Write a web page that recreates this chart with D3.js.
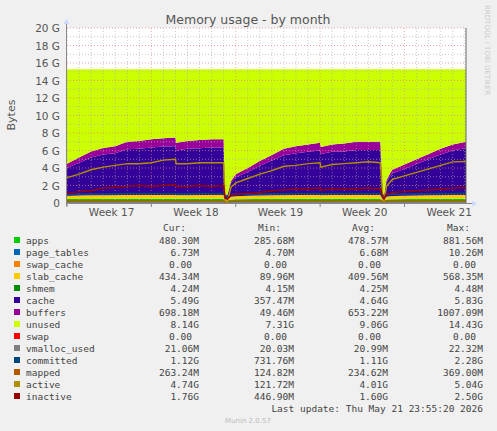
<!DOCTYPE html>
<meta charset="utf-8">
<style>
  body { margin: 0; background: #f0f0f0; }
  text { font-family: 'DejaVu Sans', sans-serif; fill: #555; }
  .mono { font-family: 'DejaVu Sans Mono', monospace; font-size: 9.5px; fill: #444; }
</style>
<body>
<script src="https://d3js.org/d3.v7.min.js"></script>
<script>
// time in days from start of the month window
var days = [0,1,2,3,4,5,6,7,8,9,9.05,10,11,12,13,13.1,13.3,13.6,14,15,16,17,18,19,20,21,21.05,22,23,24,25,26,26.2,26.3,26.5,26.8,27,28,29,30,31,32,33.1];
// stacked series in G
var apps =  [0.45,0.45,0.46,0.46,0.47,0.47,0.47,0.48,0.48,0.48,0.47,0.47,0.48,0.48,0.48,0.3,0.29,0.4,0.42,0.44,0.45,0.46,0.47,0.48,0.48,0.48,0.47,0.48,0.48,0.48,0.48,0.48,0.3,0.29,0.4,0.42,0.43,0.44,0.45,0.46,0.47,0.48,0.48];
var slab =  [0.38,0.4,0.41,0.42,0.42,0.43,0.43,0.43,0.43,0.43,0.42,0.42,0.43,0.43,0.43,0.1,0.09,0.3,0.35,0.38,0.4,0.41,0.42,0.42,0.43,0.43,0.42,0.42,0.43,0.43,0.43,0.43,0.1,0.09,0.3,0.35,0.37,0.39,0.4,0.41,0.42,0.43,0.43];
var buffers=[0.5,0.6,0.7,0.75,0.8,0.85,0.9,0.95,0.95,1.0,0.9,0.9,0.95,0.95,0.95,0.05,0.05,0.25,0.35,0.45,0.55,0.65,0.75,0.8,0.85,0.9,0.8,0.85,0.9,0.95,0.95,0.95,0.05,0.05,0.25,0.35,0.4,0.5,0.55,0.6,0.65,0.7,0.7];
var used =  [4.5,5.2,5.9,6.3,6.5,7.0,7.1,7.3,7.4,7.5,6.9,7.1,7.2,7.3,7.3,1.0,0.9,2.5,3.3,4.0,4.8,5.5,6.2,6.5,6.7,6.9,6.4,6.7,6.8,7.0,7.0,7.0,1.2,0.9,2.6,3.4,3.8,4.4,5.0,5.6,6.2,6.7,7.0];
var total = 15.3;
// line series in G
var active =   [2.9,3.3,3.8,4.1,4.3,4.5,4.5,4.6,4.9,5.0,4.5,4.5,4.6,4.6,4.6,0.3,0.1,1.8,2.3,2.8,3.3,3.7,4.2,4.3,4.5,4.6,4.1,4.4,4.5,4.6,4.7,4.6,0.5,0.1,1.9,2.4,2.7,3.1,3.5,3.9,4.3,4.7,4.74];
var inactive = [1.1,1.3,1.4,1.7,1.8,1.9,2.0,1.9,2.0,2.1,1.9,1.9,2.0,1.9,2.0,0.6,0.45,0.9,1.0,1.1,1.2,1.4,1.5,1.6,1.6,1.7,1.5,1.6,1.6,1.6,1.7,1.6,0.6,0.45,1.0,1.1,1.2,1.3,1.4,1.5,1.6,1.7,1.76];
var committed =[0.95,1.0,1.0,1.05,1.05,1.1,1.1,1.1,1.1,1.1,1.05,1.05,1.1,1.1,1.1,0.8,0.75,0.9,0.95,1.0,1.0,1.05,1.05,1.1,1.1,1.1,1.05,1.1,1.1,1.1,1.1,1.1,0.8,0.75,0.9,0.95,1.0,1.0,1.05,1.05,1.1,1.1,1.12];
var mapped =   [0.22,0.23,0.23,0.24,0.24,0.25,0.25,0.25,0.25,0.25,0.24,0.24,0.25,0.25,0.25,0.13,0.12,0.2,0.21,0.22,0.23,0.24,0.24,0.25,0.25,0.25,0.24,0.25,0.25,0.25,0.26,0.26,0.13,0.12,0.2,0.21,0.22,0.23,0.24,0.25,0.25,0.26,0.26];
var weekLabels = ["Week 17","Week 18","Week 19","Week 20","Week 21"];
var yTicks = [0,2,4,6,8,10,12,14,16,18,20];

var legendNames = ["apps","page_tables","swap_cache","slab_cache","shmem","cache","buffers","unused","swap","vmalloc_used","committed","mapped","active","inactive"];
var legendColors = ["#00CC00","#0066B3","#FF8000","#FFCC00","#008F00","#330099","#990099","#CCFF00","#FF0000","#808080","#00487D","#B35A00","#B38F00","#990000"];
var curVals = ["480.30M","6.73M","0.00","434.34M","4.24M","5.49G","698.18M","8.14G","0.00","21.06M","1.12G","263.24M","4.74G","1.76G"];
var minVals = ["285.68M","4.70M","0.00","89.96M","4.15M","357.47M","49.46M","7.31G","0.00","20.03M","731.76M","124.82M","121.72M","446.90M"];
var avgVals = ["478.57M","6.68M","0.00","409.56M","4.25M","4.64G","653.22M","9.06G","0.00","20.99M","1.11G","234.62M","4.01G","1.60G"];
var maxVals = ["881.56M","10.26M","0.00","568.35M","4.48M","5.83G","1007.09M","14.43G","0.00","22.32M","2.28G","369.00M","5.04G","2.50G"];

var W = 497, H = 431;
var svg = d3.select("body").append("svg").attr("width", W).attr("height", H);
var x = d3.scaleLinear().domain([0, 33.1]).range([67, 466]);
var y = d3.scaleLinear().domain([0, 20]).range([203, 28]);

svg.append("rect").attr("x", 67).attr("y", 28).attr("width", 399).attr("height", 175).attr("fill", "#fff");

// build stacked rows
var rows = days.map(function (d, i) {
  var pt = 0.007, sh = 0.004;
  var cache = used[i] - apps[i] - slab[i] - buffers[i] - pt - sh;
  return { day: d, apps: apps[i], page_tables: pt, swap_cache: 0, slab_cache: slab[i], shmem: sh,
    cache: cache, buffers: buffers[i], unused: total - used[i] };
});
var keys = legendNames.slice(0, 8);
var stack = d3.stack().keys(keys)(rows);
var area = d3.area().x(function (d) { return x(d.data.day); })
  .y0(function (d) { return y(d[0]); }).y1(function (d) { return y(d[1]); });
svg.selectAll(".layer").data(stack).enter().append("path")
  .attr("d", area).attr("fill", function (d, i) { return legendColors[i]; });

// grid
var g = svg.append("g");
d3.range(0, 33.1, 1).forEach(function (d) {
  g.append("line").attr("x1", x(d)).attr("x2", x(d)).attr("y1", 28).attr("y2", 203)
    .attr("stroke", d % 7 === 0 ? "#e08080" : "#aaa").attr("stroke-dasharray", "1,2").attr("stroke-opacity", 0.6);
});
d3.range(1, 21, 1).forEach(function (v) {
  g.append("line").attr("x1", 67).attr("x2", 466).attr("y1", y(v)).attr("y2", y(v))
    .attr("stroke", v % 2 === 0 ? "#e08080" : "#aaa").attr("stroke-dasharray", "1,2").attr("stroke-opacity", 0.7);
});

// lines
var line = d3.line().x(function (d, i) { return x(days[i]); }).y(function (d) { return y(d); });
[[0.021, "#808080"], [committed, "#00487D"], [mapped, "#B35A00"], [active, "#B38F00"], [inactive, "#990000"]].forEach(function (s) {
  var vals = Array.isArray(s[0]) ? s[0] : days.map(function () { return s[0]; });
  svg.append("path").attr("d", line(vals)).attr("fill", "none").attr("stroke", s[1]).attr("stroke-width", 1.5);
});

// axes
svg.append("line").attr("x1", 66).attr("x2", 472).attr("y1", 203.5).attr("y2", 203.5).attr("stroke", "#888");
svg.append("line").attr("x1", 66.5).attr("x2", 66.5).attr("y1", 22).attr("y2", 206).attr("stroke", "#888");
svg.append("line").attr("x1", 466).attr("x2", 466).attr("y1", 28).attr("y2", 203).attr("stroke", "#666");
svg.append("path").attr("d", "M472,200.5L477,203.5L472,206.5Z").attr("fill", "#ccd8ff");
svg.append("path").attr("d", "M63.5,24L66.5,19L69.5,24Z").attr("fill", "#ccd8ff");

yTicks.forEach(function (v) {
  svg.append("text").attr("x", 60).attr("y", y(v) + 4).attr("text-anchor", "end")
    .attr("font-size", 10.5).text(v === 0 ? "0" : v + " G");
});
weekLabels.forEach(function (l, i) {
  svg.append("line").attr("x1", x(i * 7)).attr("x2", x(i * 7)).attr("y1", 203).attr("y2", 207).attr("stroke", "#888");
  svg.append("text").attr("x", x(i * 7 + 3.7)).attr("y", 216).attr("text-anchor", "middle")
    .attr("font-size", 10.5).text(l);
});

svg.append("text").attr("x", 248).attr("y", 24).attr("text-anchor", "middle").attr("font-size", 12.5).text("Memory usage - by month");
svg.append("text").attr("transform", "translate(15,115) rotate(-90)").attr("text-anchor", "middle").attr("font-size", 11).text("Bytes");
svg.append("text").attr("transform", "translate(485,5) rotate(90)").attr("font-size", 7).style("fill", "#ccc").text("RRDTOOL / TOBI OETIKER");

// legend
var leg = svg.append("g");
[["Cur:", 186], ["Min:", 281], ["Avg:", 375], ["Max:", 470]].forEach(function (h) {
  leg.append("text").attr("class", "mono").attr("x", h[1]).attr("y", 231).attr("text-anchor", "end").text(h[0]);
});
legendNames.forEach(function (n, i) {
  var yy = 244 + i * 12;
  leg.append("rect").attr("x", 14).attr("y", yy - 7).attr("width", 6).attr("height", 6).attr("fill", legendColors[i]);
  leg.append("text").attr("class", "mono").attr("x", 26).attr("y", yy).text(n);
  [[curVals, 199], [minVals, 294], [avgVals, 388], [maxVals, 483]].forEach(function (c) {
    var v = c[0][i];
    var xe = v === "0.00" ? c[1] - 7 : c[1];
    leg.append("text").attr("class", "mono").attr("x", xe).attr("y", yy).attr("text-anchor", "end").text(v);
  });
});
leg.append("text").attr("class", "mono").attr("x", 483).attr("y", 412).attr("text-anchor", "end").text("Last update: Thu May 21 23:55:20 2026");
svg.append("text").attr("x", 248).attr("y", 423).attr("text-anchor", "middle").attr("font-size", 7).style("fill", "#bbb").text("Munin 2.0.57");
</script>
</body>
